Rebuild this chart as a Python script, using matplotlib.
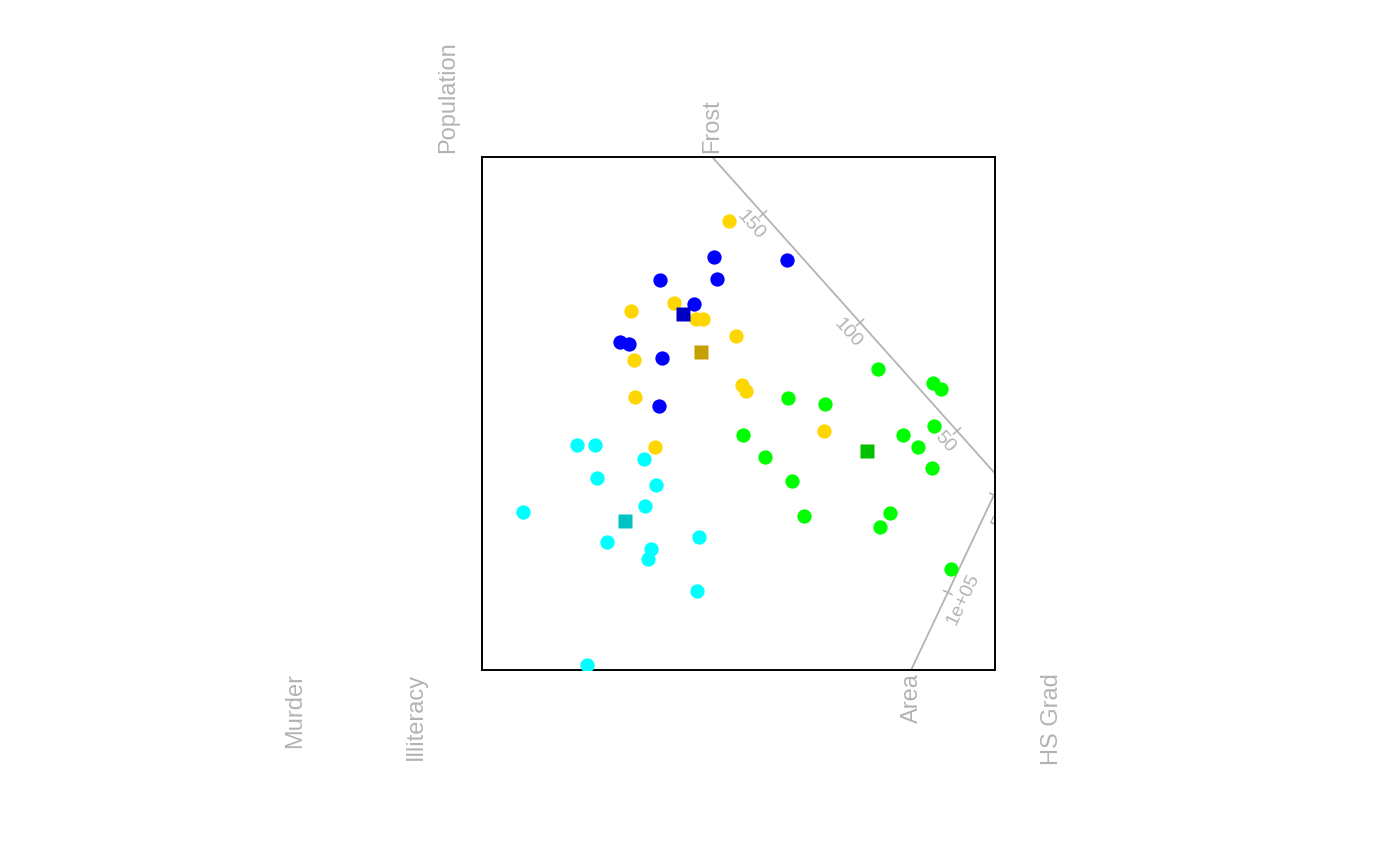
import numpy as np
import matplotlib
matplotlib.use("Agg")
import matplotlib.pyplot as plt

plt.rcParams['font.family'] = ['Liberation Sans', 'DejaVu Sans']

# biplot scores (box spans 0..10 in both directions)
yellow_x = [4.81, 3.74, 2.90, 4.17, 4.31, 4.95, 2.96, 5.07, 5.15, 2.98, 3.37, 6.67]
yellow_y = [8.75, 7.15, 7.00, 6.84, 6.84, 6.51, 6.04, 5.56, 5.44, 5.32, 4.35, 4.66]

blue_x = [4.52, 3.47, 4.58, 4.13, 2.69, 2.87, 3.51, 3.45, 5.95]
blue_y = [8.05, 7.60, 7.62, 7.13, 6.39, 6.35, 6.08, 5.15, 7.99]

cyan_x = [1.85, 2.20, 3.16, 2.24, 3.39, 0.80, 3.18, 2.44, 3.29, 3.24, 4.23, 4.19, 2.05]
cyan_y = [4.39, 4.39, 4.11, 3.74, 3.61, 3.08, 3.20, 2.50, 2.36, 2.16, 2.59, 1.54, 0.10]

green_x = [7.72, 8.79, 8.95, 5.96, 6.69, 5.09, 8.81, 8.21, 8.50, 5.52, 8.77, 6.04,
           6.28, 7.95, 7.76, 9.14]
green_y = [5.87, 5.59, 5.48, 5.30, 5.19, 4.58, 4.76, 4.58, 4.35, 4.15, 3.94, 3.68,
           3.00, 3.06, 2.79, 1.97]

# group centres (squares)
centre_x = [2.79, 3.92, 4.27, 7.50]
centre_y = [2.90, 6.94, 6.20, 4.27]
centre_col = ["#00C4C4", "#0000C4", "#C4A000", "#00C000"]

# calibrated axes: position of value 0 and shift per unit of value
frost_ticks = [50, 100, 150]
frost_zero = (11.15, 2.545)
frost_step = (-0.0378, 0.0423)

area_ticks = [50000, 100000]
area_labels = ["5e+04", "1e+05"]
area_zero = (10.88, 5.31)
area_step = (-0.90 / 5e4, -1.90 / 5e4)

# variable names around the box: (label, x, y, side)
var_labels = [("Population", -0.66, 10.08, "top"), ("Frost", 4.48, 10.08, "top"),
              ("Murder", -3.65, -0.06, "bottom"), ("Illiteracy", -1.29, -0.06, "bottom"),
              ("Area", 8.38, -0.06, "bottom"), ("HS Grad", 11.11, -0.06, "bottom")]

grey = "#B3B3B3"

fig = plt.figure(figsize=(14, 8.66), dpi=100)
ax = fig.add_axes([482 / 1400, 196 / 866, 513 / 1400, 513 / 866])
ax.set_xlim(0, 10)
ax.set_ylim(0, 10)
ax.set_aspect('equal')
ax.set_xticks([])
ax.set_yticks([])
for s in ax.spines.values():
    s.set_linewidth(1.4)


def draw_axis(zero, step, ticks, labels, vmax, side):
    zero = np.array(zero)
    step = np.array(step)
    p0 = zero
    p1 = zero + step * vmax
    ax.plot([p0[0], p1[0]], [p0[1], p1[1]], color=grey, lw=1.3, zorder=1)
    d = -step / np.linalg.norm(step)  # text runs this way
    if d[0] < 0:
        d = -d
    ang = np.degrees(np.arctan2(d[1], d[0]))
    perp = np.array([d[1], -d[0]]) * side
    for v, lab in zip(ticks, labels):
        p = zero + step * v
        ax.plot([p[0] - perp[0] * 0.09, p[0] + perp[0] * 0.09],
                [p[1] - perp[1] * 0.09, p[1] + perp[1] * 0.09],
                color=grey, lw=1.1, zorder=1)
        t = ax.annotate(lab, xy=(p[0], p[1]), xytext=(perp[0] * 12, perp[1] * 12),
                        textcoords='offset points', rotation=ang, ha='center',
                        va='center', color=grey, fontsize=14, rotation_mode='anchor',
                        zorder=1)
        t.set_clip_on(True)
        t.set_clip_path(ax.patch)


draw_axis(frost_zero, frost_step, frost_ticks, [str(v) for v in frost_ticks], 250, 1)
draw_axis(area_zero, area_step, area_ticks, area_labels, 3e5, 1)

ax.plot(yellow_x, yellow_y, 'o', color="#FFD700", ms=10.3, mec='none', zorder=3)
ax.plot(blue_x, blue_y, 'o', color="#0000FF", ms=10.3, mec='none', zorder=3)
ax.plot(cyan_x, cyan_y, 'o', color="#00FFFF", ms=10.3, mec='none', zorder=3)
ax.plot(green_x, green_y, 'o', color="#00FF00", ms=10.3, mec='none', zorder=3)
for cx, cy, cc in zip(centre_x, centre_y, centre_col):
    ax.plot(cx, cy, 's', color=cc, ms=10, mec='none', zorder=4)

for lab, x, y, side in var_labels:
    ax.text(x, y, lab, rotation=90, ha='center',
            va='bottom' if side == "top" else 'top',
            color=grey, fontsize=17, clip_on=False)

fig.savefig("out.png", dpi=100)
